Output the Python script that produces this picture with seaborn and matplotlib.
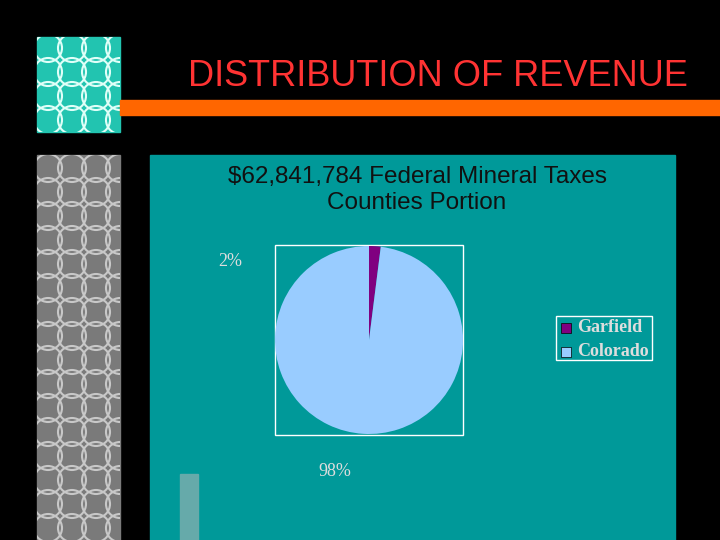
import matplotlib
matplotlib.use("Agg")
import matplotlib.pyplot as plt
import seaborn as sns
from matplotlib.patches import Rectangle, Circle
import itertools

sns.set_theme(style="white")
plt.rcParams['font.family'] = ['Liberation Sans', 'DejaVu Sans']

categories = ["Garfield", "Colorado"]
values = [2, 98]
pct_labels = ["2%", "98%"]
colors = ["#800080", "#99CCFF"]

W, H = 720, 540
fig = plt.figure(figsize=(7.2, 5.4), dpi=100, facecolor="black")
bg = fig.add_axes([0, 0, 1, 1]); bg.set_xlim(0, W); bg.set_ylim(H, 0); bg.axis("off")
bg.set_facecolor("black")

# decorative blocks
r1 = Rectangle((37, 37), 83, 95, color="#22C4B0"); bg.add_patch(r1)
r2 = Rectangle((37, 155), 83, 385, color="#7A7A7A"); bg.add_patch(r2)
for cx, cy in itertools.product(range(48, 125, 24), range(48, 140, 24)):
    c = Circle((cx, cy), 14, fill=False, ec="#E0FFF8", lw=1.5); bg.add_patch(c); c.set_clip_path(r1)
for cx, cy in itertools.product(range(48, 125, 24), range(168, 545, 24)):
    c = Circle((cx, cy), 14, fill=False, ec="#C8C8C8", lw=1.5); bg.add_patch(c); c.set_clip_path(r2)
bg.add_patch(Rectangle((120, 100), 600, 15, color="#FF6600"))
bg.add_patch(Rectangle((150, 155), 525, 385, color="#009999"))
bg.add_patch(Rectangle((180, 474), 18, 66, color="#66AAAA"))
bg.add_patch(Rectangle((275, 245), 188, 190, fill=False, ec="white", lw=1))

bg.text(438, 76, "DISTRIBUTION OF REVENUE", color="#FF3333", fontsize=26, ha="center", va="center")
bg.text(417, 190, "$62,841,784 Federal Mineral Taxes\nCounties Portion", color="#111111",
        fontsize=17.5, ha="center", va="center", linespacing=1.2)

# pie
ax = fig.add_axes([275/W, 1-435/H, 188/W, 190/H])
ax.pie(values, colors=colors, startangle=90, counterclock=False,
       wedgeprops=dict(linewidth=0))
ax.set_aspect("equal")
ax.set_xlim(-1.0, 1.0); ax.set_ylim(-1.0, 1.0)
ax.axis("off")

serif = ['Liberation Serif', 'DejaVu Serif']
bg.text(230, 262, pct_labels[0], color="#DDDDDD", fontsize=13, ha="center", va="center", family=serif)
bg.text(335, 472, pct_labels[1], color="#DDDDDD", fontsize=13, ha="center", va="center", family=serif)

# legend
bg.add_patch(Rectangle((556, 316), 96, 44, fill=False, ec="white", lw=1))
for i, (c, col) in enumerate(zip(categories, colors)):
    y = 328 + i * 24
    bg.add_patch(Rectangle((561, y - 5), 10, 10, color=col, ec="black", lw=0.5))
    bg.text(577, y, c, color="#DDDDDD", fontsize=13, fontweight="bold", va="center", family=serif)

fig.savefig("out.png", dpi=100, facecolor="black")
